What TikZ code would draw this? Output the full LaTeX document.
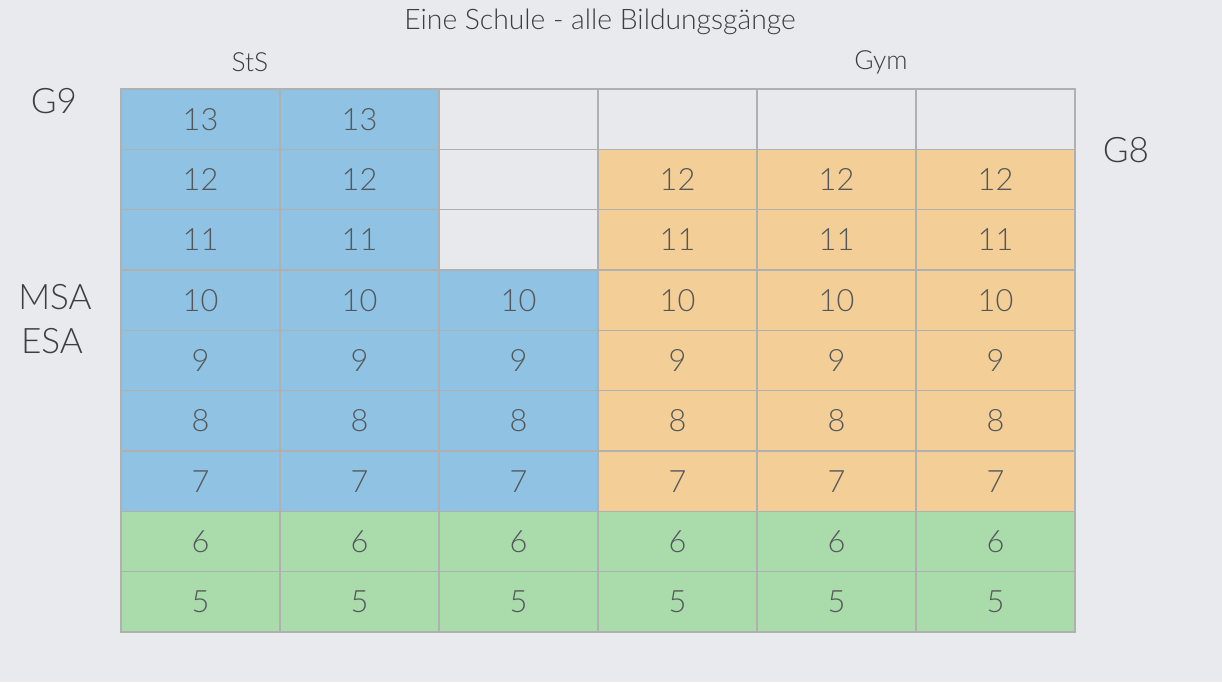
\documentclass[tikz,border=0pt]{standalone}
\usepackage{fontspec}
\setmainfont{Lato}[UprightFont=* Light]
\definecolor{bg}{HTML}{E9EAED}
\definecolor{cblue}{HTML}{8FC2E3}
\definecolor{corange}{HTML}{F3CE96}
\definecolor{cgreen}{HTML}{A9DBAB}
\definecolor{cempty}{HTML}{E8E9ED}
\definecolor{gridc}{HTML}{B0B0B0}
\definecolor{numc}{HTML}{54585A}
\definecolor{labc}{HTML}{3E3E3E}
\begin{document}
\begin{tikzpicture}[x=0.02cm,y=-0.02cm,
  cell/.style={draw=gridc,line width=0.6pt,minimum width=3.18cm,minimum height=1.2067cm,
    inner sep=0pt,outer sep=0pt,text=numc,font=\fontsize{17.5}{20}\selectfont},
  bluec/.style={cell,fill=cblue},
  orangec/.style={cell,fill=corange},
  greenc/.style={cell,fill=cgreen},
  emptyc/.style={cell,fill=cempty},
  lab/.style={text=labc,inner sep=0pt},
  biglab/.style={lab,font=\fontsize{20}{23}\selectfont},
  midlab/.style={lab,font=\fontsize{15}{18}\selectfont},
  smalllab/.style={lab,font=\fontsize{16.1}{19}\selectfont}]
\fill[bg] (0,0) rectangle (1222,682);
\useasboundingbox (0,0) rectangle (1222,682);
% rows: r=0 -> 13 ... r=8 -> 5
\foreach \r/\lbl in {0/13,1/12,2/11,3/10,4/9,5/8,6/7,7/6,8/5}{
  \foreach \c in {0,...,5}{
    \pgfmathtruncatemacro{\kind}{%
      \r>6 ? 3 : (\c<2 ? 1 : (\c==2 ? (\r>2 ? 1 : 0) : (\r>0 ? 2 : 0)))}
    \ifcase\kind
      \node[emptyc] (cell-\c-\r) at ({200.5+159*\c},{119.17+60.33*\r}) {};
    \or
      \node[bluec] (cell-\c-\r) at ({200.5+159*\c},{119.17+60.33*\r}) {\lbl};
    \or
      \node[orangec] (cell-\c-\r) at ({200.5+159*\c},{119.17+60.33*\r}) {\lbl};
    \or
      \node[greenc] (cell-\c-\r) at ({200.5+159*\c},{119.17+60.33*\r}) {\lbl};
    \fi
  }
}
\node[smalllab] (title) at (600,22) {Eine Schule - alle Bildungsgänge};
\node[midlab] (sts) at (250,62) {StS};
\node[midlab] (gym) at (881,62) {Gym};
\node[biglab] (g9) at (54,101) {G9};
\node[biglab] (g8) at (1126,150) {G8};
\node[biglab] (msa) at (55,297) {MSA};
\node[biglab] (esa) at (52,341) {ESA};
\end{tikzpicture}
\end{document}
